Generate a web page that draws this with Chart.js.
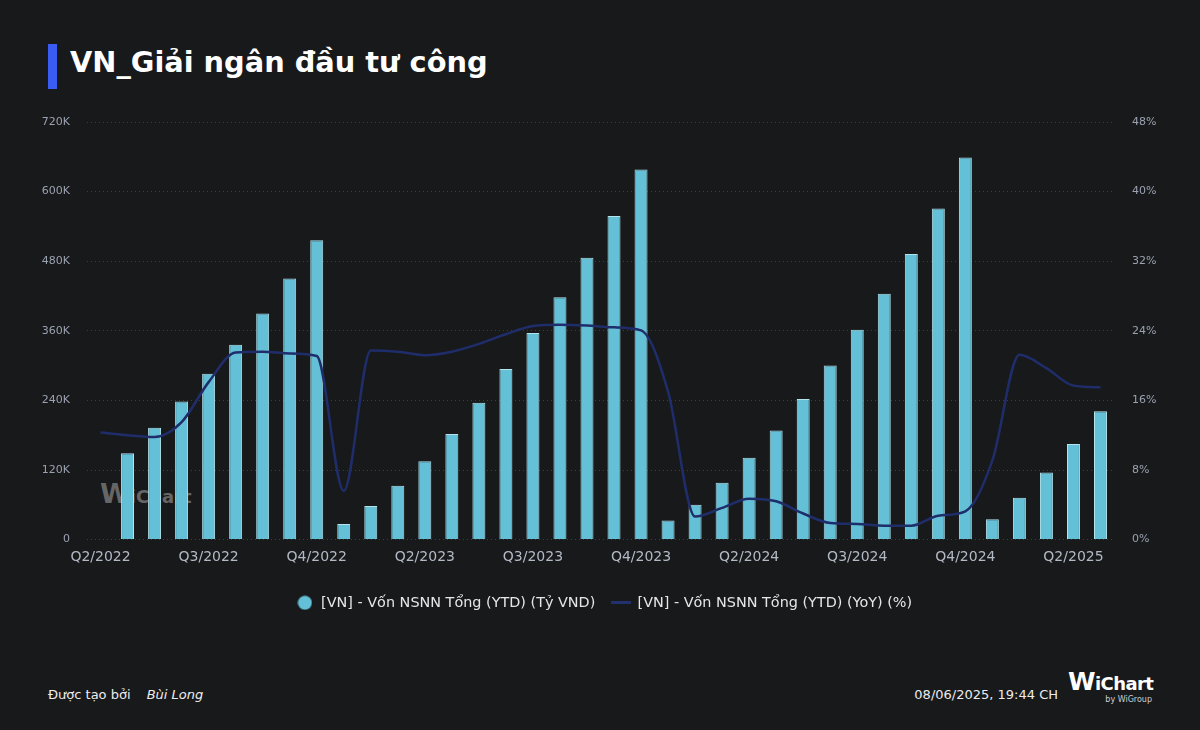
<!DOCTYPE html>
<html>
<head>
<meta charset="utf-8">
<script src="https://cdn.jsdelivr.net/npm/chart.js@4.4.1/dist/chart.umd.min.js"></script>
<style>
  html, body { margin:0; padding:0; background:#18191b; }
  body { width:1200px; height:730px; position:relative; overflow:hidden; font-family:'DejaVu Sans', sans-serif; }
  #accent { position:absolute; left:48px; top:44px; width:9px; height:45px; background:#3a5cf2; }
  #title { position:absolute; left:70px; top:42px; font-size:28.8px; font-weight:bold; color:#ffffff; line-height:40px; white-space:nowrap; }
  #wm { position:absolute; left:100px; top:478px; color:rgba(180,180,180,0.5); font-weight:bold; white-space:nowrap; z-index:0; }
  #wm .w { font-size:27px; }
  #wm .c { font-size:18px; }
  #chartWrap { position:absolute; left:0; top:100px; width:1200px; height:520px; z-index:1; }
  #by { position:absolute; left:48px; top:687px; font-size:13px; color:#ececec; white-space:nowrap; }
  #by i { margin-left:12px; }
  #date { position:absolute; right:142px; top:687px; font-size:13px; color:#ececec; white-space:nowrap; }
  #logo { position:absolute; left:1068px; top:669px; color:#ffffff; font-weight:bold; white-space:nowrap; letter-spacing:-0.6px; line-height:26px; }
  #logo .w { font-size:25px; }
  #logo .c { font-size:18px; }
  #logo2 { position:absolute; right:48px; top:695px; color:#cfcfcf; font-size:8px; white-space:nowrap; }
</style>
</head>
<body>
<div id="accent"></div>
<div id="title">VN_Giải ngân đầu tư công</div>
<div id="wm"><span class="w">W</span><span class="c">iChart</span></div>
<div id="chartWrap"><canvas id="c" width="1200" height="520"></canvas></div>
<div id="by">Được tạo bởi <i>Bùi Long</i></div>
<div id="date">08/06/2025, 19:44 CH</div>
<div id="logo"><span class="w">W</span><span class="c">iChart</span></div>
<div id="logo2">by WiGroup</div>
<script>
const months = ["04/2022","05/2022","06/2022","07/2022","08/2022","09/2022","10/2022","11/2022","12/2022",
  "01/2023","02/2023","03/2023","04/2023","05/2023","06/2023","07/2023","08/2023","09/2023","10/2023","11/2023","12/2023",
  "01/2024","02/2024","03/2024","04/2024","05/2024","06/2024","07/2024","08/2024","09/2024","10/2024","11/2024","12/2024",
  "01/2025","02/2025","03/2025","04/2025","05/2025"];
const quarterTicks = ["Q2/2022","Q3/2022","Q4/2022","Q2/2023","Q3/2023","Q4/2023","Q2/2024","Q3/2024","Q4/2024","Q2/2025"];
const vonYTD = [null,149000,193000,238000,286000,336000,390000,450000,516000,
  27000,58000,93000,135000,182000,236000,294000,356000,418000,486000,558000,638000,
  33000,60000,98000,141000,188000,242500,300000,362000,424000,492500,571000,659000,
  35000,72000,115500,165000,221500];
const vonYoY = [12.3,12.0,11.8,13.5,18.1,21.5,21.6,21.4,21.1,
  5.6,21.75,21.6,21.2,21.6,22.5,23.6,24.55,24.7,24.6,24.4,24.05,
  17.0,2.65,3.65,4.7,4.4,3.0,1.9,1.8,1.6,1.6,2.75,3.25,
  9.1,21.25,19.7,17.7,17.5];
const leftTicks = [0,120000,240000,360000,480000,600000,720000];
const rightTicks = [0,8,16,24,32,40,48];

const FONT = "'DejaVu Sans', sans-serif";
const BAR_COLOR = '#64c0d7', LINE_COLOR = '#1f2d6a';

function makeCircle() {
  const c = document.createElement('canvas'); c.width = 15; c.height = 15;
  const g = c.getContext('2d'); g.fillStyle = BAR_COLOR; g.beginPath(); g.arc(7.5, 7.5, 7, 0, Math.PI*2); g.fill();
  return c;
}
function makeDash() {
  const c = document.createElement('canvas'); c.width = 20; c.height = 3;
  const g = c.getContext('2d'); g.fillStyle = '#22306e'; g.fillRect(0, 0, 20, 3);
  return c;
}
const legendIcons = [makeCircle(), makeDash()];

new Chart(document.getElementById('c'), {
  data: {
    labels: months,
    datasets: [
      { type:'bar', label:'[VN] - Vốn NSNN Tổng (YTD) (Tỷ VND)', data:vonYTD, yAxisID:'y',
        backgroundColor:BAR_COLOR, borderColor:'#b3e4ee', borderWidth:1,
        categoryPercentage:0.8, barPercentage:0.6, order:2 },
      { type:'line', label:'[VN] - Vốn NSNN Tổng (YTD) (YoY) (%)', data:vonYoY, yAxisID:'y1',
        borderColor:LINE_COLOR, borderWidth:2.5, pointRadius:0, cubicInterpolationMode:'monotone',
        fill:false, order:1 }
    ]
  },
  options: {
    responsive:false, animation:false,
    layout: { padding: { top:22, left:8, right:0, bottom:0 } },
    plugins: {
      tooltip: { enabled:false },
      legend: {
        position:'bottom',
        labels: { usePointStyle:true, pointStyleWidth:18, boxHeight:10, boxWidth:18, color:'#e6e6e6', padding:17,
          font:{ family:FONT, size:14.4 },
          generateLabels:(chart)=>{
            const items = Chart.defaults.plugins.legend.labels.generateLabels(chart);
            items.forEach(it=>{ it.pointStyle = legendIcons[it.datasetIndex]; });
            return items;
          },
          sort:(a,b)=>a.datasetIndex-b.datasetIndex }
      }
    },
    scales: {
      x: {
        grid:{ display:false, drawTicks:false }, border:{ display:false },
        ticks:{ autoSkip:false, maxRotation:0, minRotation:0, padding:9, color:'#b3b9c5',
          font:{ family:FONT, size:14 },
          callback:(v,i)=> (i%4===0 ? quarterTicks[i/4] : '') },
        afterFit:(s)=>{ s.height = 39; }
      },
      y: {
        position:'left', min:0, max:720000,
        afterBuildTicks:(s)=>{ s.ticks = leftTicks.map(v=>({value:v})); },
        grid:{ color:'#3c3f45', lineWidth:1, drawTicks:false },
        border:{ display:false, dash:[1,3] },
        ticks:{ padding:17, color:'#9aa1b0', font:{ family:FONT, size:11 },
          callback:(v)=> v===0 ? '0' : (v/1000)+'K' },
        afterFit:(s)=>{ s.width = 79; s.paddingTop = 0; s.paddingBottom = 0; }
      },
      y1: {
        position:'right', min:0, max:48,
        afterBuildTicks:(s)=>{ s.ticks = rightTicks.map(v=>({value:v})); },
        grid:{ display:false, drawTicks:false }, border:{ display:false },
        ticks:{ padding:18, color:'#9aa1b0', font:{ family:FONT, size:11 },
          callback:(v)=> v+'%' },
        afterFit:(s)=>{ s.width = 86; s.paddingTop = 0; s.paddingBottom = 0; }
      }
    }
  }
});
</script>
</body>
</html>
